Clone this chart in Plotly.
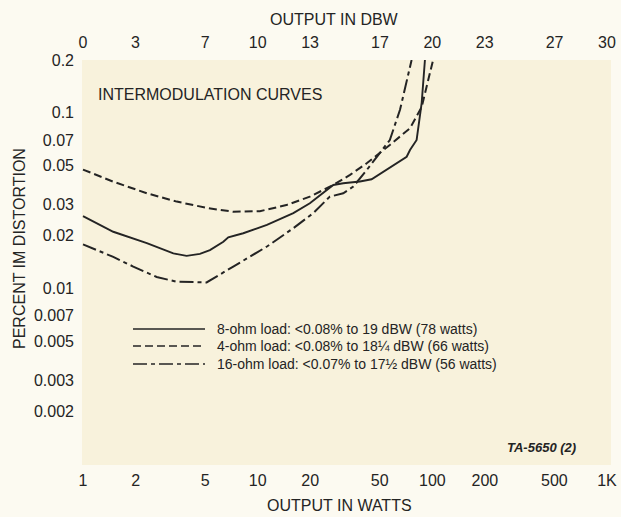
import numpy as np
import plotly.graph_objects as go

# Output power (watts) and percent IM distortion for each load
watts_8ohm = [1.0, 1.49, 2.32, 3.29, 3.92, 4.67, 5.33, 6.36, 6.79, 8.27, 11.3, 16.0,
              19.9, 24.3, 27.1, 30.9, 38.5, 44.9, 52.3, 62.5, 71.3, 74.5, 81.3, 86.9, 90.7]
imd_8ohm = [0.0258, 0.0210, 0.0181, 0.0158, 0.0153, 0.0157, 0.0165, 0.0184, 0.0195, 0.0206,
            0.0230, 0.0268, 0.0305, 0.0356, 0.0388, 0.0397, 0.0406, 0.0418, 0.0462, 0.0516,
            0.0562, 0.0614, 0.070, 0.114, 0.20]

watts_4ohm = [1.0, 1.49, 2.32, 3.44, 5.21, 7.25, 10.3, 14.6, 19.9, 27.1, 33.8, 42.1,
              57.1, 74.5, 86.9, 92.6, 101.0]
imd_4ohm = [0.0475, 0.0405, 0.0348, 0.0312, 0.0286, 0.0273, 0.0275, 0.0298, 0.0333, 0.0388,
            0.0443, 0.0516, 0.0656, 0.0817, 0.108, 0.141, 0.20]

watts_16ohm = [1.0, 1.49, 1.94, 2.64, 3.44, 5.1, 7.25, 11.3, 16.0, 20.8, 25.9, 30.9,
               35.3, 42.1, 57.1, 65.3, 76.1]
imd_16ohm = [0.0178, 0.0151, 0.0133, 0.0116, 0.0109, 0.0108, 0.0133, 0.0173, 0.0220, 0.0268,
             0.0333, 0.0348, 0.0380, 0.0472, 0.070, 0.104, 0.20]

x_ticks = [1, 2, 5, 10, 20, 50, 100, 200, 500, 1000]
x_tick_text = ["1", "2", "5", "10", "20", "50", "100", "200", "500", "1K"]
dbw_ticks = [0, 3, 7, 10, 13, 17, 20, 23, 27, 30]
y_ticks = [0.2, 0.1, 0.07, 0.05, 0.03, 0.02, 0.01, 0.007, 0.005, 0.003, 0.002]
y_tick_text = ["0.2", "0.1", "0.07", "0.05", "0.03", "0.02", "0.01", "0.007", "0.005", "0.003", "0.002"]

legend_labels = [
    "8-ohm load: &lt;0.08% to 19 dBW (78 watts)",
    "4-ohm load: &lt;0.08% to 18¼ dBW (66 watts)",
    "16-ohm load: &lt;0.07% to 17½ dBW (56 watts)",
]

FONT = "Liberation Sans, Arial, sans-serif"
INK = "#242424"
DASH_4 = "8px,4px"
DASH_16 = "14px,4px,4px,4px"

fig = go.Figure()
fig.add_trace(go.Scatter(x=watts_8ohm, y=imd_8ohm, mode="lines",
                         line=dict(color=INK, width=1.9), showlegend=False))
fig.add_trace(go.Scatter(x=watts_4ohm, y=imd_4ohm, mode="lines",
                         line=dict(color=INK, width=2, dash=DASH_4), showlegend=False))
fig.add_trace(go.Scatter(x=watts_16ohm, y=imd_16ohm, mode="lines",
                         line=dict(color=INK, width=2, dash=DASH_16), showlegend=False))
# invisible trace that activates the dBW axis on top
fig.add_trace(go.Scatter(x=[10 * np.log10(w) for w in watts_8ohm[:1]], y=imd_8ohm[:1],
                         xaxis="x2", mode="markers", marker=dict(opacity=0),
                         showlegend=False, hoverinfo="skip"))

x_lo, x_hi = -0.0057, 3.0229

fig.update_layout(
    width=621, height=517,
    margin=dict(l=82, r=10, t=60, b=52, autoexpand=False),
    paper_bgcolor="#fcfaf1",
    plot_bgcolor="#f8f2dc",
    font=dict(family=FONT, size=16, color=INK),
    xaxis=dict(type="log", range=[x_lo, x_hi], tickvals=x_ticks, ticktext=x_tick_text,
               showgrid=False, zeroline=False, showline=False, ticks="", automargin=False,
               ticklabelstandoff=4, tickfont=dict(size=16)),
    xaxis2=dict(overlaying="x", side="top", range=[10 * x_lo, 10 * x_hi],
                tickvals=dbw_ticks, ticktext=[str(t) for t in dbw_ticks], automargin=False,
                showgrid=False, zeroline=False, showline=False, ticks="",
                ticklabelstandoff=8, tickfont=dict(size=16)),
    yaxis=dict(type="log", range=[-3.007, np.log10(0.2)], tickvals=y_ticks,
               ticktext=y_tick_text, showgrid=False, zeroline=False, showline=False,
               ticks="", ticklabelstandoff=7, tickfont=dict(size=16), automargin=False),
)


def note(text, x, y, size, xanchor="center", **kw):
    return dict(text=text, x=x, y=y, xref="paper", yref="paper", xanchor=xanchor,
                yanchor="middle", showarrow=False, font=dict(size=size), **kw)


annotations = [
    note("OUTPUT IN DBW", 0.4764, 1.0988, 16),
    note("OUTPUT IN WATTS", 0.4877, -0.0988, 16),
    note("PERCENT IM DISTORTION", -0.1191, 0.5358, 16, textangle=-90),
    note("INTERMODULATION CURVES", 0.0265, 0.9136, 16, xanchor="left"),
    note("<i><b>TA-5650 (2)</b></i>", 0.938, 0.042, 13, xanchor="right"),
]

# key: line samples with their descriptions
key_y = [0.3358, 0.2938, 0.2494]
key_dash = ["solid", DASH_4, DASH_16]
shapes = []
for yy, dash, label in zip(key_y, key_dash, legend_labels):
    shapes.append(dict(type="line", xref="paper", yref="paper", x0=0.0964, x1=0.2325,
                       y0=yy, y1=yy, line=dict(color=INK, width=1.6, dash=dash)))
    annotations.append(note(label, 0.2514, yy, 14, xanchor="left"))

fig.update_layout(annotations=annotations, shapes=shapes)
fig.write_html("out.html")
